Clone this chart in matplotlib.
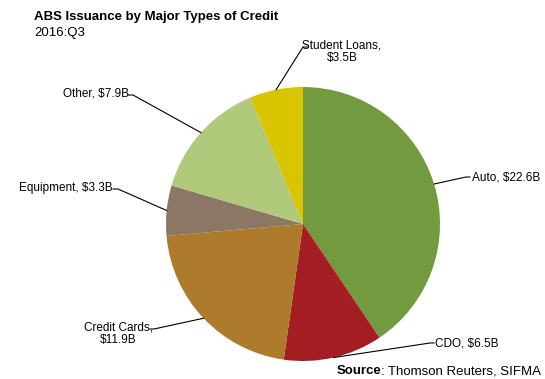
import numpy as np
import matplotlib.pyplot as plt

plt.rcParams['font.family'] = ['Liberation Sans', 'DejaVu Sans']

categories = ["Auto", "CDO", "Credit Cards", "Equipment", "Other", "Student Loans"]
values = [22.6, 6.5, 11.9, 3.3, 7.9, 3.5]
colors = ["#739a3e", "#a31d22", "#ae7a2b", "#8c7764", "#b1c97b", "#d8c400"]

W, H = 545, 379
fig = plt.figure(figsize=(W / 100, H / 100), dpi=100)
ax = fig.add_axes([0, 0, 1, 1])
ax.set_xlim(0, W)
ax.set_ylim(0, H)
ax.set_aspect('equal')
ax.axis('off')

cx, cy, r = 303, H - 224, 137
wedges, _ = ax.pie(values, colors=colors, startangle=90, counterclock=False,
                   center=(cx, cy), radius=r, wedgeprops=dict(linewidth=0),
                   frame=True)
ax.set_xlim(0, W)
ax.set_ylim(0, H)
ax.axis('off')

# label text anchor, elbow point, alignment
label_pos = {
    "Auto":          ((472, 177), (466, 177), 'left', "Auto, $22.6B"),
    "CDO":           ((435, 343), (430, 343), 'left', "CDO, $6.5B"),
    "Credit Cards":  ((118, 334), (154, 329), 'center', "Credit Cards,\n$11.9B"),
    "Equipment":     ((113, 188), (118, 189), 'right', "Equipment, $3.3B"),
    "Other":         ((129, 93), (133, 95), 'right', "Other, $7.9B"),
    "Student Loans": ((342, 52), (303, 47), 'center', "Student Loans,\n$3.5B"),
}

for w, name in zip(wedges, categories):
    ang = np.deg2rad((w.theta1 + w.theta2) / 2)
    ex, ey = cx + r * np.cos(ang), cy + r * np.sin(ang)
    (tx, ty), (bx, by), ha, txt = label_pos[name]
    ty, by = H - ty, H - by
    if name == "Student Loans":
        ax.plot([ex, bx, bx + 5], [ey, by, by], color='black', lw=0.8)
    elif ha == 'left':
        ax.plot([ex, bx, bx + 4], [ey, by, by], color='black', lw=0.8)
    elif name == "Credit Cards":
        ax.plot([ex, bx, bx - 4], [ey, by, by], color='black', lw=0.8)
        tx = 118
    else:
        ax.plot([ex, bx, bx - 5], [ey, by, by], color='black', lw=0.8)
    ax.text(tx, ty, txt, ha=ha, va='center', fontsize=8.5, linespacing=1.1)

ax.text(34, H - 17, "ABS Issuance by Major Types of Credit", fontsize=9.5,
        fontweight='bold', va='center', ha='left')
ax.text(34, H - 33, "2016:Q3", fontsize=9.5, va='center', ha='left')

src = ax.text(541, H - 371, ": Thomson Reuters, SIFMA", fontsize=9.5,
              va='center', ha='right')
fig.canvas.draw()
bb = src.get_window_extent().transformed(ax.transData.inverted())
ax.text(bb.x0, H - 371, "Source", fontsize=9.5, fontweight='bold',
        va='center', ha='right')

fig.savefig("out.png", dpi=100)
